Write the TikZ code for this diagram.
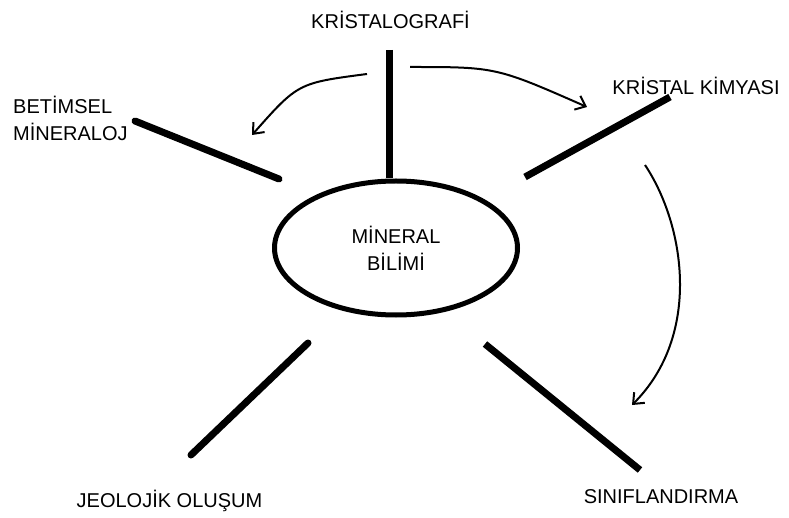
\documentclass[tikz,border=0pt]{standalone}
\usepackage{fontspec}
\setmainfont{Liberation Sans}
\usetikzlibrary{arrows.meta, shapes.geometric}
\colorlet{linecolor}{black}
\tikzset{
  term/.style={
    font=\fontsize{20}{27}\selectfont,
    inner sep=0pt,
    align=center
  },
  core/.style={
    term,
    ellipse,
    draw=linecolor,
    line width=5pt,
    minimum width=243pt,
    minimum height=134pt
  },
  spoke/.style={draw=linecolor, line width=7pt, line cap=round},
  arr/.style={-{Straight Barb[length=9pt,width=15pt]}, draw=linecolor, line width=2pt}
}
\begin{document}
\begin{tikzpicture}[x=1pt, y=-1pt]
\useasboundingbox (0,0) rectangle (789,518);

\node[core] (bilim) at (396,248) {MİNERAL\\BİLİMİ};
\node[term, anchor=base] (kristal) at (390.5,29) {KRİSTALOGRAFİ};
\node[term, anchor=west, align=left] (betim) at (13,118) {BETİMSEL\\MİNERALOJ};
\node[term, anchor=base] (kimya) at (696,95) {KRİSTAL KİMYASI};
\node[term, anchor=base] (jeoloji) at (169.5,507) {JEOLOJİK OLUŞUM};
\node[term, anchor=base] (sinif) at (661,503) {SINIFLANDIRMA};

\coordinate (kristaltop) at (389,50);
\coordinate (betimout) at (135,121);
\coordinate (betimin) at (279,179);
\coordinate (kimyaout) at (670,97);
\coordinate (kimyain) at (525,177);
\coordinate (jeoloout) at (191,455);
\coordinate (jeoloin) at (308,343);
\coordinate (sinifout) at (640,470);
\coordinate (sinifin) at (485,344);

\coordinate (leftfrom) at (367,74);
\coordinate (leftto) at (252,135);
\coordinate (rightfrom) at (410,67);
\coordinate (rightto) at (587,107);
\coordinate (downfrom) at (645,165);
\coordinate (downto) at (632,405);

\draw[spoke, line cap=butt] (kristaltop) -- (kristaltop |- bilim.north);
\draw[spoke] (betimout) -- (betimin);
\draw[spoke, line cap=butt] (kimyaout) -- (kimyain);
\draw[spoke] (jeoloout) -- (jeoloin);
\draw[spoke, line cap=butt] (sinifout) -- (sinifin);

\draw[arr] (leftfrom) .. controls (298,83) .. (leftto);
\draw[arr] (rightfrom) .. controls (496,67) .. (rightto);
\draw[arr] (downfrom) .. controls (685,225) and (702,335) .. (downto);

\end{tikzpicture}
\end{document}
